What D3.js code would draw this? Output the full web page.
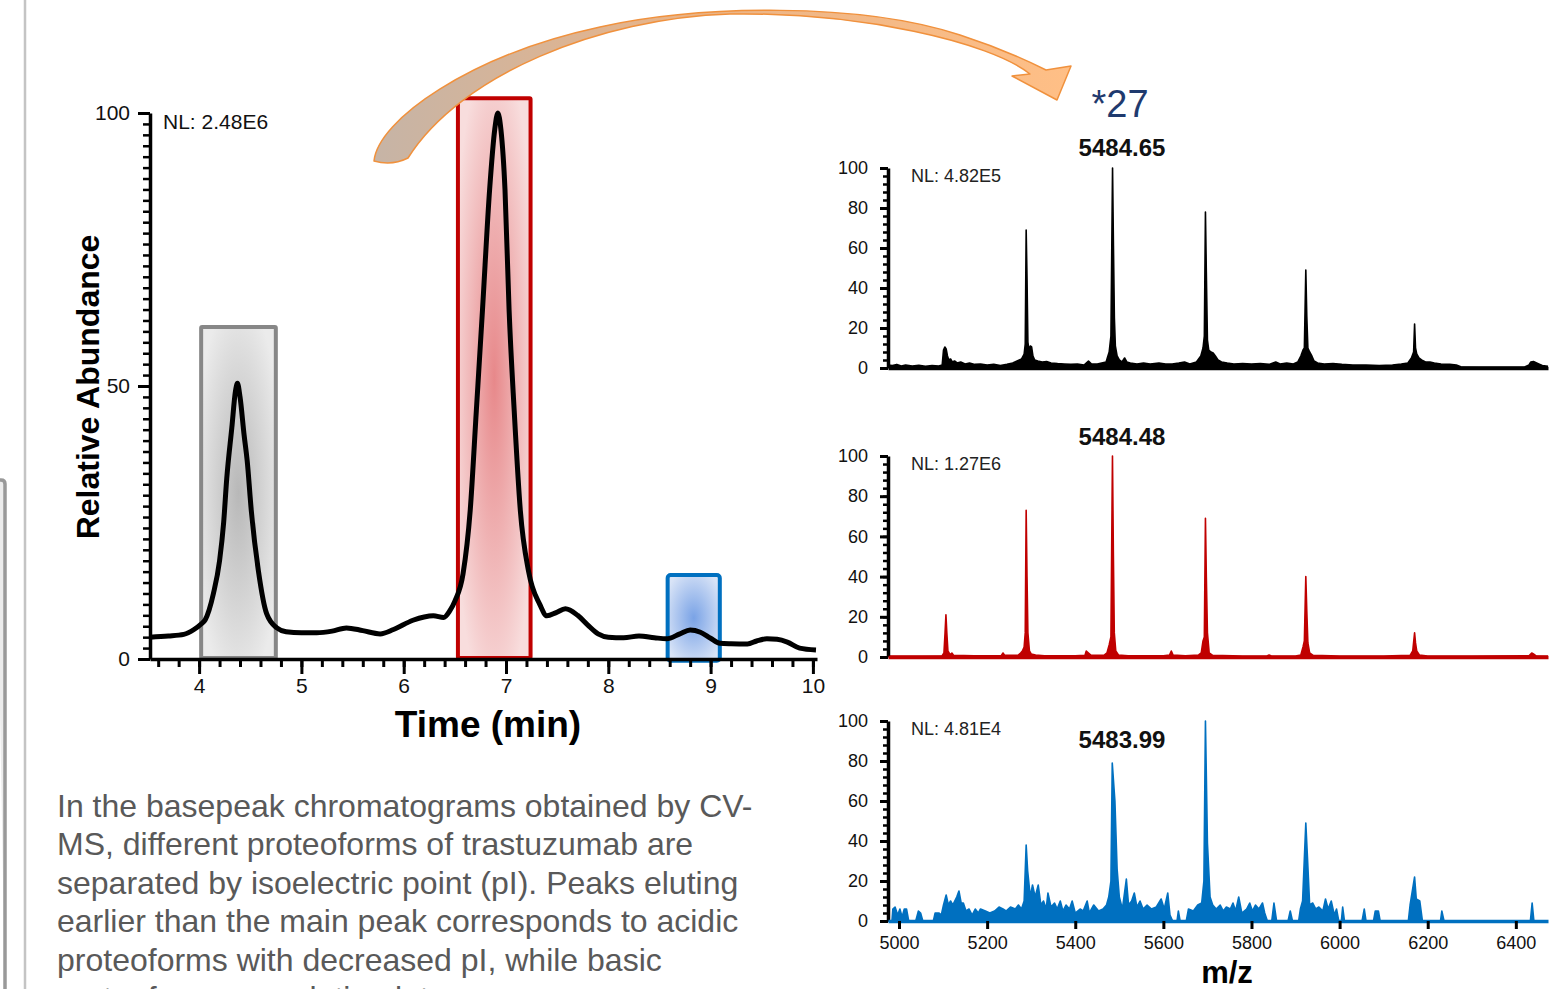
<!DOCTYPE html>
<html>
<head>
<meta charset="utf-8">
<script src="https://cdn.jsdelivr.net/npm/d3@7"></script>
<style>
    body { margin: 0; background: #fff; }
    svg text { font-family: "Liberation Sans", Arial, sans-serif; }
</style>
</head>
<body>
<svg id="fig" width="1555" height="989"></svg>
<script>

// base peak chromatogram: [time (min), relative abundance]
var chromTrace = [
    [3.52, 4.0], [3.7, 4.2], [3.85, 4.5], [3.95, 5.4], [4.02, 6.4], [4.06, 7.2], [4.14, 12], [4.2, 18],
    [4.24, 25], [4.27, 33], [4.32, 42.4], [4.355, 49], [4.375, 50.5], [4.4, 48], [4.44, 41], [4.47, 36.3],
    [4.51, 27.2], [4.58, 16.1], [4.66, 8.3], [4.76, 5.7], [4.85, 5.0], [5.0, 4.8], [5.15, 4.8], [5.3, 5.1],
    [5.44, 5.7], [5.6, 5.2], [5.77, 4.6], [5.9, 5.4], [6.09, 7.1], [6.2, 7.7], [6.29, 7.9], [6.39, 7.6],
    [6.45, 8.8], [6.5, 10.6], [6.58, 15.6], [6.65, 27.2], [6.71, 45.5], [6.77, 63.9], [6.84, 86], [6.89, 97],
    [6.92, 100], [6.95, 97], [6.99, 86], [7.03, 64], [7.08, 45.5], [7.14, 27.2], [7.22, 16.1], [7.33, 10],
    [7.4, 7.9], [7.49, 8.5], [7.58, 9.2], [7.7, 8.0], [7.8, 6.2], [7.9, 4.6], [8.0, 4.0], [8.15, 3.9],
    [8.3, 4.2], [8.45, 3.9], [8.57, 3.7], [8.7, 4.6], [8.8, 5.3], [8.9, 4.9], [9.0, 3.8], [9.09, 2.9],
    [9.2, 2.8], [9.36, 2.75], [9.45, 3.3], [9.55, 3.7], [9.65, 3.6], [9.75, 3.1], [9.87, 2.0], [10.03, 1.65]
];
var timeTicks = [4, 5, 6, 7, 8, 9, 10];
var abundTicks = [0, 50, 100];

// collected fractions: start, end (min), top and bottom (relative abundance)
var fracStart = [4.02, 6.53, 8.58];
var fracEnd = [4.75, 7.24, 9.09];
var fracTop = [60.8, 102.7, 15.4];
var fracBase = [0.2, 0.2, -0.3];
var fracNames = ["grey", "red", "blue"];

// mass spectra of the three fractions: [m/z, relative abundance]
var specGrey = [
    [4975, 1.5], [4985, 1.2], [4995, 1.8], [5005, 1.0], [5015, 1.5], [5030, 1.0], [5045, 1.3], [5060, 0.8],
    [5075, 1.2], [5090, 1.0], [5098, 1.5], [5101, 9], [5104, 10.5], [5107, 9.5], [5110, 6], [5113, 4],
    [5117, 4.5], [5121, 3], [5126, 3.5], [5132, 2.5], [5140, 3], [5150, 2], [5160, 2.5], [5172, 1.8],
    [5185, 2], [5200, 1.5], [5215, 1.8], [5230, 1.2], [5245, 1.8], [5258, 2.5], [5268, 3.5], [5278, 4.5],
    [5284, 7], [5286.5, 12], [5288.6, 69], [5290.5, 45], [5292.5, 13], [5295, 9], [5298, 11], [5301, 10.5],
    [5304, 6], [5308, 4], [5315, 3.5], [5325, 3], [5335, 3.2], [5345, 2.5], [5360, 2.2], [5375, 2],
    [5390, 1.8], [5405, 2], [5420, 1.5], [5430, 3.5], [5437, 2], [5450, 2], [5460, 2.5], [5470, 3],
    [5477, 8], [5481, 16], [5484.65, 100], [5486.7, 61], [5488.8, 25], [5491, 11], [5495, 6], [5500, 4],
    [5506, 3], [5512, 5], [5517, 3], [5525, 2.5], [5540, 2], [5555, 2.5], [5570, 2], [5590, 2.5],
    [5605, 2], [5620, 2], [5635, 2.5], [5648, 3], [5660, 2], [5675, 3], [5685, 6], [5690, 10],
    [5693, 16], [5695.5, 78], [5697.5, 48], [5700, 14], [5703, 9], [5708, 8], [5713, 7.5], [5718, 6],
    [5724, 4], [5732, 3], [5745, 2.5], [5760, 2], [5780, 2.2], [5800, 2], [5820, 2.2], [5840, 1.8],
    [5855, 3], [5865, 2], [5880, 2.5], [5895, 2], [5905, 3], [5912, 6], [5917, 9], [5920, 10],
    [5923.3, 49], [5925.5, 26], [5928, 10], [5932, 8], [5937, 6], [5942, 3.5], [5950, 2.5], [5965, 2],
    [5985, 2.2], [6005, 1.8], [6030, 1.5], [6060, 1.5], [6090, 1.2], [6120, 1.5], [6140, 2], [6155, 2.5],
    [6163, 5], [6168, 8], [6170.2, 22], [6172.3, 10], [6175, 7], [6180, 5], [6186, 4], [6195, 3],
    [6205, 3], [6215, 2.5], [6230, 2], [6250, 1.8], [6265, 1.5], [6275, 0.6], [6320, 0.5], [6370, 0.5],
    [6420, 0.5], [6430, 1.5], [6434, 3], [6440, 3.2], [6446, 2.6], [6452, 2], [6460, 1.2], [6473, 0.8]
];
var specRed = [
    [4975, 0.5], [5050, 0.5], [5098, 0.6], [5102, 2], [5104.5, 12], [5106.5, 21], [5108.5, 12], [5111, 3],
    [5116, 1.2], [5120, 2], [5124, 0.8], [5170, 0.6], [5232, 0.7], [5236, 2], [5240, 0.8], [5270, 0.8],
    [5276, 2], [5280, 3], [5284, 5], [5286.5, 12], [5288.6, 73], [5290.5, 40], [5292.5, 12], [5296, 3],
    [5300, 1.5], [5310, 1], [5330, 0.6], [5400, 0.6], [5422, 0.8], [5425, 3], [5430, 2], [5436, 0.8],
    [5465, 0.8], [5472, 2], [5477, 6], [5481, 10], [5484.48, 100], [5486.5, 52], [5488.6, 12], [5492, 3],
    [5498, 1], [5520, 0.6], [5600, 0.6], [5614, 1], [5618, 3], [5622, 1], [5650, 0.6], [5680, 1],
    [5686, 2], [5690, 8], [5693, 10], [5695.5, 69], [5697.5, 40], [5700, 12], [5704, 2], [5712, 0.8],
    [5780, 0.5], [5835, 0.5], [5840, 1], [5845, 0.5], [5900, 0.5], [5912, 1], [5917, 5], [5920, 8],
    [5923.3, 40], [5925.5, 23], [5928, 7], [5932, 2], [5940, 0.8], [6000, 0.5], [6100, 0.5], [6160, 0.8],
    [6166, 3], [6170.2, 12], [6172.3, 7], [6175, 3], [6181, 1], [6200, 0.5], [6300, 0.5], [6430, 0.6],
    [6436, 2], [6440, 1.5], [6446, 0.6], [6473, 0.5]
];
var specBlue = [
    [4975, 0], [4984, 0], [4986, 6], [4991, 7], [4997, 3], [5002, 6], [5007, 2], [5012, 6],
    [5017, 6], [5022, 0], [5038, 0], [5044, 5], [5049, 4], [5054, 0], [5078, 0], [5082, 4],
    [5091, 4], [5096, 3], [5101, 8], [5107, 13], [5112, 8], [5117, 10], [5122, 8], [5131, 12],
    [5136, 15], [5141, 9], [5146, 9], [5152, 5], [5159, 6], [5166, 3], [5173, 6], [5180, 4],
    [5185, 6], [5196, 5], [5206, 4], [5217, 5], [5227, 7], [5236, 6], [5243, 5], [5253, 7],
    [5264, 6], [5271, 8], [5278, 6], [5284, 10], [5288.6, 38], [5292, 25], [5298, 12], [5303, 18],
    [5309, 12], [5316, 18], [5322, 8], [5328, 10], [5334, 6], [5338, 14], [5345, 7], [5353, 9],
    [5359, 6], [5366, 10], [5372, 5], [5379, 8], [5387, 6], [5393, 10], [5400, 4], [5411, 6],
    [5418, 5], [5427, 10], [5432, 4], [5442, 8], [5453, 5], [5463, 6], [5471, 8], [5476, 12],
    [5481, 20], [5483.99, 79], [5490, 60], [5495, 26], [5500, 12], [5507, 6], [5516, 21], [5521, 8],
    [5528, 10], [5534, 14], [5540, 7], [5547, 10], [5554, 6], [5563, 8], [5573, 6], [5584, 7],
    [5595, 11], [5602, 6], [5610, 14], [5615, 3], [5621, 0], [5631, 0], [5634, 5], [5638, 0],
    [5652, 0], [5657, 6], [5668, 5], [5678, 8], [5687, 9], [5692, 20], [5695.5, 100], [5700, 39],
    [5706, 12], [5712, 8], [5720, 6], [5729, 8], [5736, 5], [5743, 7], [5752, 6], [5758, 9],
    [5764, 5], [5771, 12], [5778, 4], [5789, 6], [5796, 9], [5802, 5], [5809, 8], [5817, 6],
    [5825, 9], [5830, 4], [5836, 0], [5846, 0], [5851, 9], [5857, 0], [5883, 0], [5888, 5],
    [5893, 0], [5907, 0], [5911, 6], [5916, 10], [5923.3, 49], [5927, 32], [5932, 8], [5939, 9],
    [5946, 6], [5953, 7], [5962, 5], [5968, 11], [5974, 6], [5981, 10], [5988, 3], [5993, 6],
    [5998, 0], [6004, 0], [6007, 7], [6011, 0], [6051, 0], [6056, 6], [6060, 0], [6077, 0],
    [6081, 5], [6088, 5], [6092, 0], [6156, 0], [6160, 8], [6170.2, 22], [6174, 11], [6182, 10],
    [6188, 0], [6229, 0], [6232, 5], [6237, 0], [6433, 0], [6437, 9], [6441, 0], [6473, 0]
];
var mzTicks = [5000, 5200, 5400, 5600, 5800, 6000, 6200, 6400];
var specTicks = [0, 20, 40, 60, 80, 100];
var specNL = ["NL: 4.82E5", "NL: 1.27E6", "NL: 4.81E4"];
var specPeak = ["5484.65", "5484.48", "5483.99"];

var caption = [
    "In the basepeak chromatograms obtained by CV-",
    "MS, different proteoforms of trastuzumab are",
    "separated by isoelectric point (pI). Peaks eluting",
    "earlier than the main peak corresponds to acidic",
    "proteoforms with decreased pI, while basic",
    "proteoforms are eluting later."
];

var svg = d3.select("#fig");
var defs = svg.append("defs");
var plain = d3.format("d");

// box fills: pale at the edges, stronger in the middle
function addBoxGradient(id, inner, outer) {
    var g = defs.append("radialGradient").attr("id", id)
        .attr("cx", 0.5).attr("cy", 0.5).attr("r", 0.6);
    g.append("stop").attr("offset", "0%").attr("stop-color", inner);
    g.append("stop").attr("offset", "100%").attr("stop-color", outer);
}
addBoxGradient("fill-grey", "#b8b8b8", "#ebebeb");
addBoxGradient("fill-red", "#e7888a", "#f8dddd");
addBoxGradient("fill-blue", "#7aa3e6", "#d9e4f7");
var fracStroke = {grey: "#878787", red: "#c00000", blue: "#0070c0"};

var arrowGrad = defs.append("linearGradient").attr("id", "arrow-fill")
    .attr("gradientUnits", "userSpaceOnUse")
    .attr("x1", 374).attr("y1", 0).attr("x2", 1072).attr("y2", 0);
arrowGrad.append("stop").attr("offset", "0%").attr("stop-color", "#c6b4a6");
arrowGrad.append("stop").attr("offset", "45%").attr("stop-color", "#e9b488");
arrowGrad.append("stop").attr("offset", "100%").attr("stop-color", "#ffbf86");

// frame lines on the left edge
svg.append("line")
    .attr("x1", 25).attr("x2", 25).attr("y1", 0).attr("y2", 989)
    .attr("stroke", "#c4c4c4").attr("stroke-width", 2.5);
svg.append("path")
    .attr("d", "M-4,480 L1,480 Q5,480 5,484 L5,995")
    .attr("fill", "#ececec").attr("stroke", "#999").attr("stroke-width", 3.5);

function styleTickText(sel, size) {
    sel.selectAll("text").attr("font-size", size).attr("fill", "#111")
        .style("font-family", "'Liberation Sans', Arial, sans-serif");
}

/**
 * Chromatogram on the left with the three collected fractions.
 * */
function drawChromatogram() {
    var x = d3.scaleLinear().domain([3.52, 10.04]).range([150, 817]);
    var y = d3.scaleLinear().domain([0, 100]).range([659, 113]);
    var chart = svg.append("g").attr("class", "chrom");

    // fraction boxes
    chart.selectAll(".frac")
        .data(fracNames)
        .enter().append("rect")
        .attr("class", "frac")
        .attr("x", function(d, i) { return x(fracStart[i]); })
        .attr("y", function(d, i) { return y(fracTop[i]); })
        .attr("width", function(d, i) { return x(fracEnd[i]) - x(fracStart[i]); })
        .attr("height", function(d, i) { return y(fracBase[i]) - y(fracTop[i]); })
        .attr("rx", function(d) { return d === "blue" ? 3 : 1; })
        .attr("fill", function(d) { return "url(#fill-" + d + ")"; })
        .attr("stroke", function(d) { return fracStroke[d]; })
        .attr("stroke-width", 4);

    // minor ticks first, major axes on top
    var minorX = d3.range(18, 51).map(function(i) { return i / 5; });
    chart.append("g")
        .attr("transform", "translate(0," + y(0) + ")")
        .call(d3.axisBottom(x).tickValues(minorX).tickSize(8).tickSizeOuter(0).tickFormat(""))
        .call(function(g) { g.select(".domain").remove(); })
        .selectAll("line").attr("stroke-width", 3);

    var minorY = d3.range(0, 101, 2);
    chart.append("g")
        .attr("transform", "translate(" + x(3.52) + ",0)")
        .call(d3.axisLeft(y).tickValues(minorY).tickSize(7).tickSizeOuter(0).tickFormat(""))
        .call(function(g) { g.select(".domain").remove(); })
        .selectAll("line").attr("stroke-width", 2.5);

    var xAxis = chart.append("g")
        .attr("transform", "translate(0," + y(0) + ")")
        .call(d3.axisBottom(x).tickValues(timeTicks).tickFormat(plain)
            .tickSize(15).tickPadding(4).tickSizeOuter(0));
    xAxis.select(".domain").attr("stroke-width", 3.5);
    xAxis.selectAll("line").attr("stroke-width", 3);
    styleTickText(xAxis, 21);

    var yAxis = chart.append("g")
        .attr("transform", "translate(" + x(3.52) + ",0)")
        .call(d3.axisLeft(y).tickValues(abundTicks).tickFormat(plain)
            .tickSize(12).tickPadding(8).tickSizeOuter(0));
    yAxis.select(".domain").attr("stroke-width", 3.5);
    yAxis.selectAll("line").attr("stroke-width", 3);
    styleTickText(yAxis, 21);

    // the trace itself
    var line = d3.line()
        .x(function(d) { return x(d[0]); })
        .y(function(d) { return y(d[1]); })
        .curve(d3.curveMonotoneX);
    chart.append("path")
        .datum(chromTrace)
        .attr("d", line)
        .attr("fill", "none")
        .attr("stroke", "#000")
        .attr("stroke-width", 5)
        .attr("stroke-linejoin", "round");

    chart.append("text")
        .attr("x", 163).attr("y", 129)
        .attr("font-size", 21).attr("fill", "#111")
        .text("NL: 2.48E6");

    chart.append("text")
        .attr("transform", "translate(99,387) rotate(-90)")
        .attr("text-anchor", "middle")
        .attr("font-size", 32).attr("font-weight", "bold")
        .text("Relative Abundance");

    chart.append("text")
        .attr("x", 488).attr("y", 737)
        .attr("text-anchor", "middle")
        .attr("font-size", 37).attr("font-weight", "bold")
        .text("Time (min)");
}

/**
 * One mass spectrum panel, optionally with the m/z axis under it.
 * */
function drawSpectrum(points, color, top, bottom, nl, peak, peakY, withAxis) {
    var x = d3.scaleLinear().domain([4975, 6473]).range([888, 1548]);
    var y = d3.scaleLinear().domain([0, 100]).range([bottom, top]);
    var panel = svg.append("g").attr("class", "spectrum");

    var area = d3.area()
        .x(function(d) { return x(d[0]); })
        .y0(y(0))
        .y1(function(d) { return y(d[1]); });
    var line = d3.line()
        .x(function(d) { return x(d[0]); })
        .y(function(d) { return y(d[1]); });

    panel.append("path").datum(points).attr("d", area).attr("fill", color);
    panel.append("path").datum(points).attr("d", line)
        .attr("fill", "none").attr("stroke", color).attr("stroke-width", 1.6)
        .attr("stroke-linejoin", "round");

    panel.append("g")
        .attr("transform", "translate(888,0)")
        .call(d3.axisLeft(y).tickValues(d3.range(0, 101, 4)).tickSize(5).tickSizeOuter(0).tickFormat(""))
        .call(function(g) { g.select(".domain").remove(); })
        .selectAll("line").attr("stroke-width", 2.5);

    var yAxis = panel.append("g")
        .attr("transform", "translate(888,0)")
        .call(d3.axisLeft(y).tickValues(specTicks).tickFormat(plain)
            .tickSize(8).tickPadding(12).tickSizeOuter(0));
    yAxis.select(".domain").attr("stroke-width", 3.5);
    yAxis.selectAll("line").attr("stroke-width", 3);
    styleTickText(yAxis, 18);

    var xAxis = panel.append("g")
        .attr("transform", "translate(0," + y(0) + ")")
        .call(d3.axisBottom(x).tickValues(withAxis ? mzTicks : []).tickFormat(plain)
            .tickSize(8).tickPadding(7).tickSizeOuter(0));
    xAxis.select(".domain").attr("stroke", color).attr("stroke-width", 3.5);
    xAxis.selectAll("line").attr("stroke-width", 3);
    styleTickText(xAxis, 18);

    panel.append("text")
        .attr("x", 911).attr("y", top + 14)
        .attr("font-size", 18).attr("fill", "#222")
        .text(nl);

    panel.append("text")
        .attr("x", 1122).attr("y", peakY)
        .attr("text-anchor", "middle")
        .attr("font-size", 24).attr("font-weight", "bold").attr("fill", "#111")
        .text(peak);
}

drawChromatogram();
drawSpectrum(specGrey, "#000", 168, 368, specNL[0], specPeak[0], 156, false);
drawSpectrum(specRed, "#c00000", 456, 657, specNL[1], specPeak[1], 445, false);
drawSpectrum(specBlue, "#0070c0", 721, 921, specNL[2], specPeak[2], 748, true);

svg.append("text")
    .attr("x", 1227).attr("y", 983)
    .attr("text-anchor", "middle")
    .attr("font-size", 31).attr("font-weight", "bold")
    .text("m/z");

svg.append("text")
    .attr("x", 1120).attr("y", 117)
    .attr("text-anchor", "middle")
    .attr("font-size", 38).attr("fill", "#1f3a6e")
    .text("*27");

// curved arrow from the main fraction to its spectrum
svg.append("path")
    .attr("d", "M374,161 C378,120 470,55 600,27 C700,5 860,2 960,35 C1000,48 1030,62 1046,70 " +
        "L1071,66 L1057,100 L1012,76 L1030,74 C990,42 860,12 730,14 C600,18 460,75 408,158 Q392,166 374,161 Z")
    .attr("fill", "url(#arrow-fill)")
    .attr("stroke", "#f0913d")
    .attr("stroke-width", 1.5)
    .attr("stroke-linejoin", "round");

// caption under the chromatogram
svg.append("g").selectAll("text")
    .data(caption)
    .enter().append("text")
    .attr("x", 57)
    .attr("y", function(d, i) { return 817 + i * 38.4; })
    .attr("font-size", 32)
    .attr("fill", "#595959")
    .text(function(d) { return d; });

</script>
</body>
</html>
